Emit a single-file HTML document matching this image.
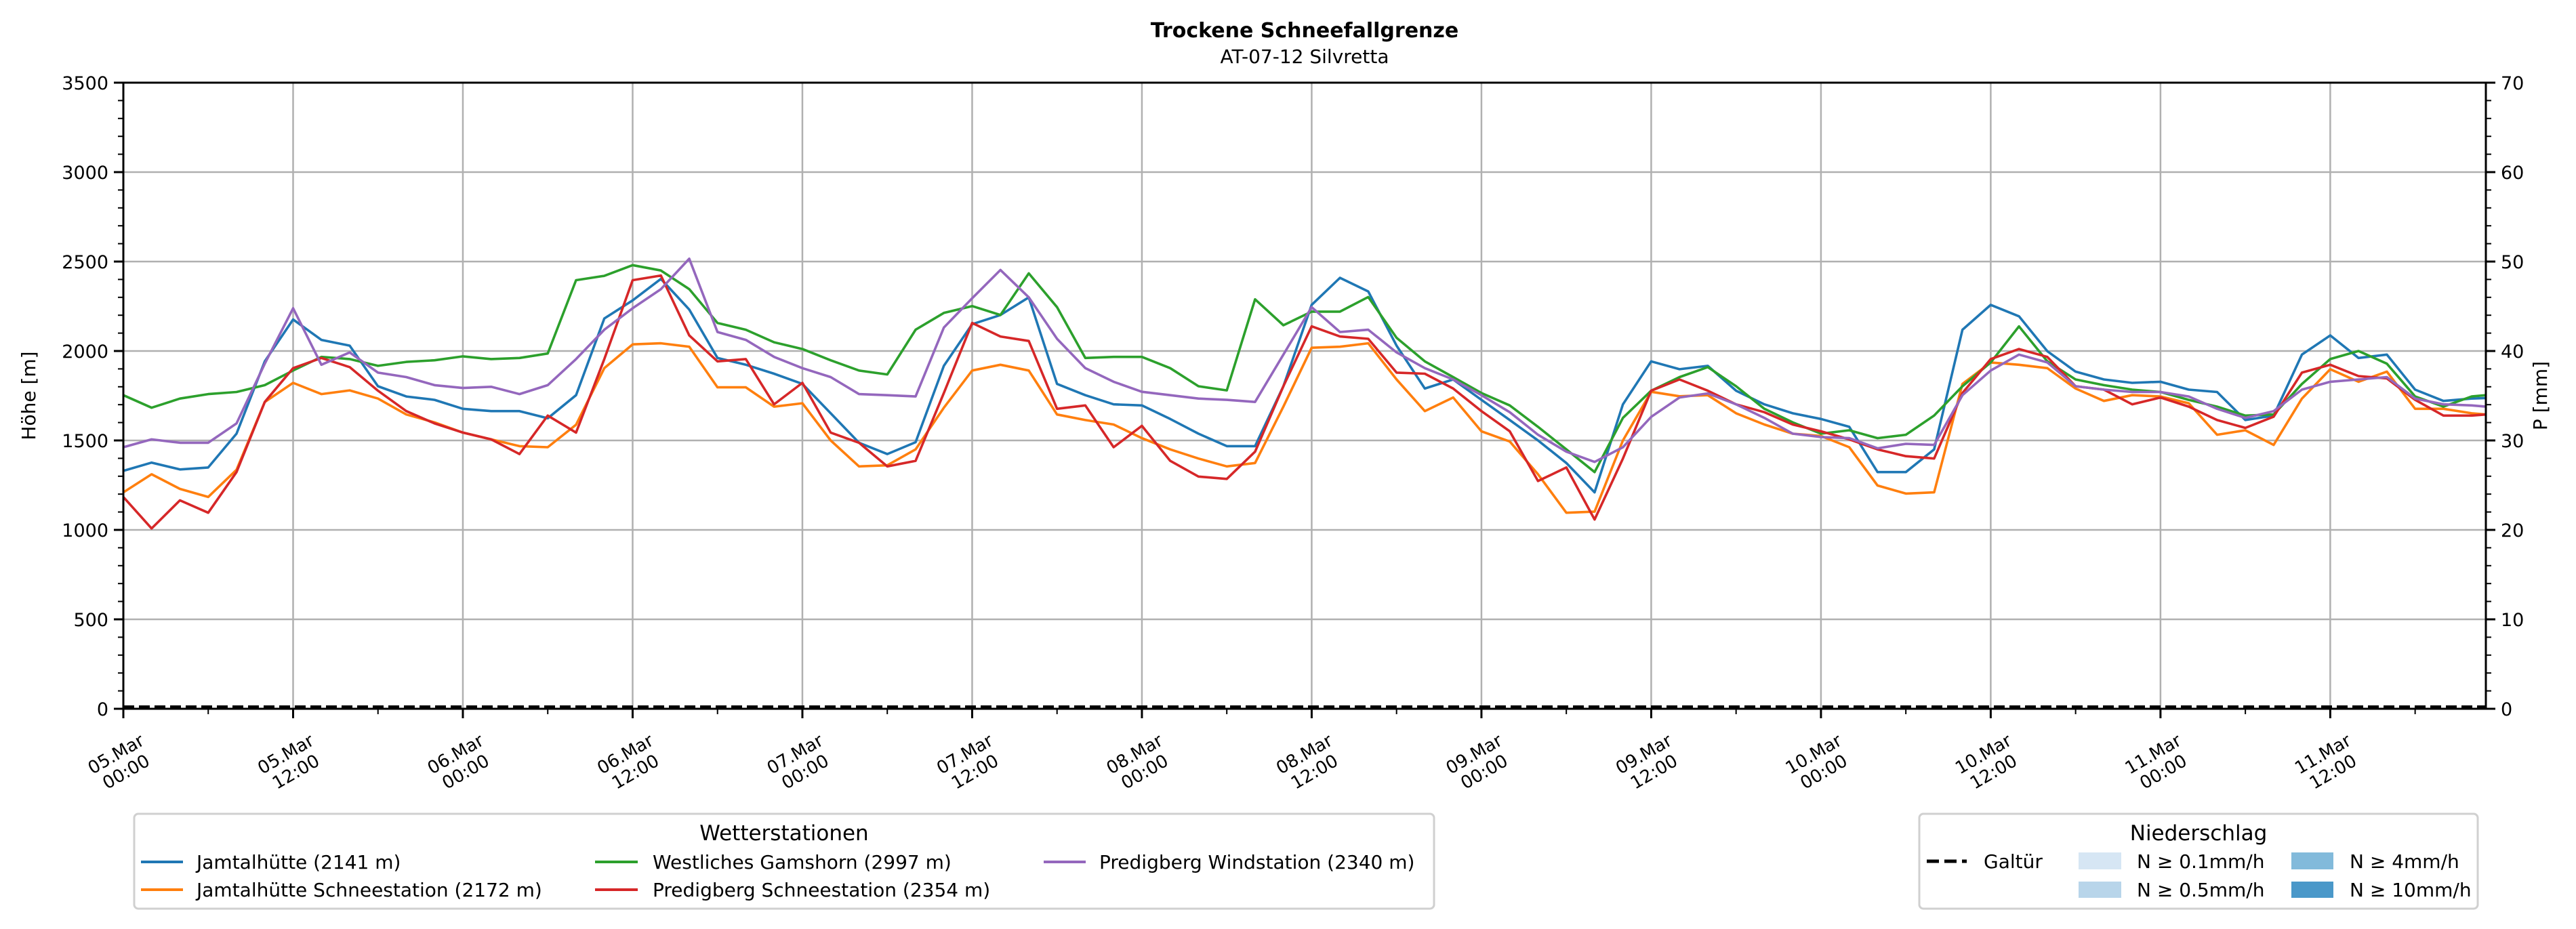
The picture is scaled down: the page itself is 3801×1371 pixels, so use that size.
<!DOCTYPE html>
<html><head><meta charset="utf-8">
<style>
html,body{margin:0;padding:0;background:#fff;}
svg{display:block;font-family:"DejaVu Sans","Liberation Sans",sans-serif;}
</style></head>
<body>
<svg id="chart" width="3801" height="1371" viewBox="0 0 3801 1371" xmlns="http://www.w3.org/2000/svg">
  <rect x="0" y="0" width="3801" height="1371" fill="#fff"/>
  <text x="1925" y="55" font-size="30" font-weight="bold" text-anchor="middle">Trockene Schneefallgrenze</text>
  <text x="1925" y="93" font-size="28" text-anchor="middle">AT-07-12 Silvretta</text>
  <g id="grid"></g>
  <g id="series"></g>
  <g id="axes"></g>
  <text transform="translate(52,584) rotate(-90)" font-size="28" text-anchor="middle">Höhe [m]</text>
  <text transform="translate(3758,584) rotate(-90)" font-size="28" text-anchor="middle">P [mm]</text>

  <g>
    <rect x="198" y="1201" width="1918" height="140" rx="6" fill="#fff" stroke="#d0d0d0" stroke-width="3"/>
    <text x="1157" y="1240" font-size="31" text-anchor="middle">Wetterstationen</text>
    <g><line x1="208" y1="1272" x2="270" y2="1272" stroke="#1f77b4" stroke-width="4"/><text x="290" y="1282" font-size="28">Jamtalhütte (2141 m)</text></g>
    <g><line x1="208" y1="1313" x2="270" y2="1313" stroke="#ff7f0e" stroke-width="4"/><text x="290" y="1323" font-size="28">Jamtalhütte Schneestation (2172 m)</text></g>
    <g><line x1="878" y1="1272" x2="941" y2="1272" stroke="#2ca02c" stroke-width="4"/><text x="963" y="1282" font-size="28">Westliches Gamshorn (2997 m)</text></g>
    <g><line x1="878" y1="1313" x2="941" y2="1313" stroke="#d62728" stroke-width="4"/><text x="963" y="1323" font-size="28">Predigberg Schneestation (2354 m)</text></g>
    <g><line x1="1540" y1="1272" x2="1602" y2="1272" stroke="#9467bd" stroke-width="4"/><text x="1622" y="1282" font-size="28">Predigberg Windstation (2340 m)</text></g>
  </g>

  <g>
    <rect x="2832" y="1201" width="824" height="140" rx="6" fill="#fff" stroke="#d0d0d0" stroke-width="3"/>
    <text x="3244" y="1240" font-size="31" text-anchor="middle">Niederschlag</text>
    <g><line x1="2843" y1="1271" x2="2902" y2="1271" stroke="#000" stroke-width="5" stroke-dasharray="18,8"/><text x="2927" y="1281" font-size="28">Galtür</text></g>
    <g><rect x="3067" y="1258" width="63" height="25" fill="#d6e6f4"/><text x="3153" y="1281" font-size="28">N ≥ 0.1mm/h</text></g>
    <g><rect x="3067" y="1301" width="63" height="24" fill="#b8d5ea"/><text x="3153" y="1323" font-size="28">N ≥ 0.5mm/h</text></g>
    <g><rect x="3381" y="1258" width="62" height="25" fill="#82badb"/><text x="3467" y="1281" font-size="28">N ≥ 4mm/h</text></g>
    <g><rect x="3381" y="1301" width="62" height="24" fill="#4a98c9"/><text x="3467" y="1323" font-size="28">N ≥ 10mm/h</text></g>
  </g>
</svg>
<script>
// ---- data ----
const hours = [0,2,4,6,8,10,12,14,16,18,20,22,24,26,28,30,32,34,36,38,40,42,
 44,46,48,50,52,54,56,58,60,62,64,66,68,70,72,74,76,78,80,82,84,
 86,88,90,92,94,96,98,100,102,104,106,108,110,112,114,116,118,120,122,124,126,
 128,130,132,134,136,138,140,142,144,146,148,150,152,154,156,158,160,162,164,166,167];
const jamtal = [1330,1376,1338,1349,1538,1942,2176,2062,2030,1803,1746,1727,1677,1664,1664,1624,1753,2182,2283,2403,2232,1961,
 1923,1873,1816,1652,1487,1424,1490,1917,2150,2201,2300,1816,1753,1702,1696,1620,1538,1468,1468,1803,2258,
 2409,2333,2030,1790,1841,1727,1614,1500,1374,1210,1702,1942,1898,1917,1778,1702,1652,1620,1576,1323,1323,
 1450,2119,2258,2194,1999,1885,1841,1822,1828,1784,1771,1614,1639,1980,2087,1961,1980,1784,1721,1734,1737];
const jamtalSchnee = [1210,1311,1229,1184,1336,1715,1822,1759,1780,1734,1645,1601,1544,1506,1468,1462,1588,1904,2037,2043,2024,1797,
 1797,1689,1708,1500,1355,1361,1450,1683,1891,1923,1891,1645,1614,1589,1513,1450,1399,1355,1374,1689,2018,
 2024,2043,1841,1664,1740,1551,1494,1311,1096,1102,1500,1772,1747,1753,1652,1589,1538,1525,1462,1248,1203,
 1210,1816,1936,1923,1904,1790,1721,1753,1746,1708,1532,1557,1475,1734,1898,1828,1885,1677,1677,1652,1645];
const gamshorn = [1753,1683,1734,1759,1771,1809,1891,1967,1955,1917,1939,1948,1970,1955,1961,1986,2396,2420,2480,2450,2346,2157,
 2119,2049,2011,1948,1891,1869,2119,2213,2251,2201,2434,2245,1961,1967,1967,1904,1803,1780,2289,2144,2220,
 2220,2302,2074,1942,1854,1765,1696,1576,1450,1323,1626,1778,1854,1910,1803,1677,1601,1538,1557,1513,1532,
 1639,1803,1936,2138,1942,1841,1809,1784,1771,1727,1689,1639,1645,1816,1955,2000,1929,1746,1689,1746,1753];
const predigSchnee = [1184,1008,1165,1096,1323,1715,1904,1961,1910,1778,1664,1595,1544,1506,1424,1639,1544,1955,2396,2422,2087,1942,
 1955,1702,1822,1544,1487,1355,1386,1765,2157,2081,2056,1677,1696,1462,1582,1386,1298,1285,1437,1803,2138,
 2081,2068,1879,1873,1790,1664,1551,1273,1349,1058,1399,1778,1841,1778,1702,1658,1589,1551,1506,1450,1412,
 1399,1765,1955,2011,1967,1803,1784,1702,1740,1689,1614,1570,1633,1879,1923,1860,1847,1727,1639,1639,1645];
const predigWind = [1462,1506,1487,1487,1595,1929,2239,1923,1992,1879,1854,1809,1793,1800,1759,1809,1955,2119,2239,2346,2516,2106,
 2062,1967,1904,1854,1759,1753,1746,2131,2295,2453,2300,2068,1904,1828,1772,1753,1734,1727,1715,1980,2245,
 2106,2119,1992,1904,1841,1753,1658,1532,1437,1380,1462,1632,1740,1763,1702,1626,1538,1519,1513,1456,1481,
 1475,1753,1891,1980,1936,1803,1784,1771,1771,1746,1677,1626,1664,1784,1828,1841,1854,1734,1702,1696,1689];
const yTicks = [0,500,1000,1500,2000,2500,3000,3500];
const y2Ticks = [0,10,20,30,40,50,60,70];
const xTickHours = [0,12,24,36,48,60,72,84,96,108,120,132,144,156];
const xTickLabels = [["05.Mar","00:00"],["05.Mar","12:00"],["06.Mar","00:00"],["06.Mar","12:00"],["07.Mar","00:00"],["07.Mar","12:00"],["08.Mar","00:00"],["08.Mar","12:00"],["09.Mar","00:00"],["09.Mar","12:00"],["10.Mar","00:00"],["10.Mar","12:00"],["11.Mar","00:00"],["11.Mar","12:00"]];

// ---- layout ----
const L=182, R=3668, T=122, B=1046, XMAX=167, YMAX=3500;
const xs = h => L + h/XMAX*(R-L);
const ys = v => B - v/YMAX*(B-T);
const NS="http://www.w3.org/2000/svg";
function mk(tag, attrs, parent){const e=document.createElementNS(NS,tag);for(const k in attrs)e.setAttribute(k,attrs[k]);parent.appendChild(e);return e;}
const grid=document.getElementById('grid'), axes=document.getElementById('axes'), ser=document.getElementById('series');

yTicks.forEach(v=>{
  const g=mk('line',{x1:L,x2:R,y1:ys(v),y2:ys(v),stroke:'#b0b0b0','stroke-width':2.5},grid);
  
  
});
xTickHours.forEach(h=>{
  const g=mk('line',{x1:xs(h),x2:xs(h),y1:T,y2:B,stroke:'#b0b0b0','stroke-width':2.5},grid);
  
  
});

const series=[[jamtal,'#1f77b4','line-jamtal'],[jamtalSchnee,'#ff7f0e','line-jamtal-schnee'],[gamshorn,'#2ca02c','line-gamshorn'],[predigSchnee,'#d62728','line-predigberg-schnee'],[predigWind,'#9467bd','line-predigberg-wind']];
series.forEach(([vals,col,name])=>{
  const d=vals.map((v,i)=>(i?'L':'M')+xs(hours[i]).toFixed(1)+','+ys(v).toFixed(1)).join(' ');
  const p=mk('path',{d:d,fill:'none',stroke:col,'stroke-width':3.6,'stroke-linejoin':'round'},ser);
  
  
});
const gl=mk('line',{x1:L,x2:R,y1:B-3,y2:B-3,stroke:'#000','stroke-width':4,'stroke-dasharray':'16,7'},ser);



// frame
const fr=mk('rect',{x:L,y:T,width:R-L,height:B-T,fill:'none',stroke:'#000','stroke-width':3},axes);



// y ticks
for(let v=0; v<=YMAX; v+=100){
  const major=v%500===0, len=major?14:8;
  mk('line',{x1:L-len,x2:L,y1:ys(v),y2:ys(v),stroke:'#000','stroke-width':major?3:2},axes);
  mk('line',{x1:R,x2:R+len,y1:ys(v),y2:ys(v),stroke:'#000','stroke-width':major?3:2},axes);
}
yTicks.forEach(v=>{
  const t=mk('text',{x:L-22,y:ys(v)+10,'font-size':27,'text-anchor':'end'},axes);
  t.textContent=v;
  
  
});
y2Ticks.forEach(v=>{
  const t=mk('text',{x:R+22,y:ys(v*50)+10,'font-size':27,'text-anchor':'start'},axes);
  t.textContent=v;
  
  
});
// x ticks
for(let h=0; h<=XMAX; h+=6){
  const major=h%12===0;
  mk('line',{x1:xs(h),x2:xs(h),y1:B,y2:B+(major?14:8),stroke:'#000','stroke-width':major?3:2},axes);
}
xTickHours.forEach((h,i)=>{
  const cx=xs(h)-4, cy=1125;
  const t=mk('text',{transform:`translate(${cx},${cy}) rotate(-30)`,'font-size':26,'text-anchor':'middle'},axes);
  
  
  const a=mk('tspan',{x:0,y:-5},t); a.textContent=xTickLabels[i][0];
  const b=mk('tspan',{x:0,y:25},t); b.textContent=xTickLabels[i][1];
});
</script>
</body></html>
